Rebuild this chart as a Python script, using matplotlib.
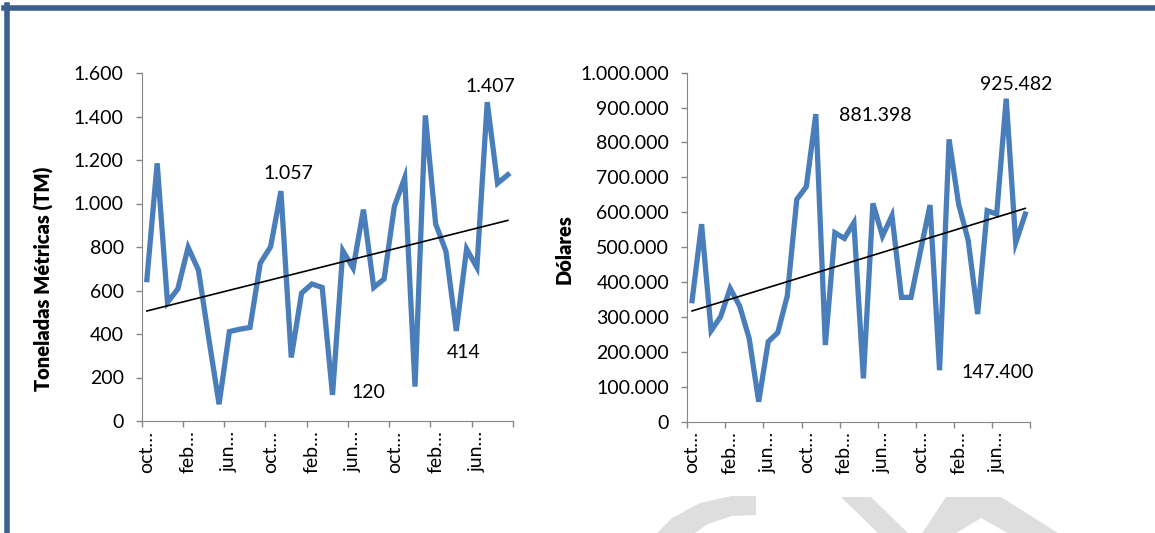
import numpy as np
import matplotlib.pyplot as plt
from matplotlib.ticker import FuncFormatter, FixedLocator
from matplotlib.lines import Line2D
from matplotlib.patches import Polygon

# monthly series, oct to sep, three years
meses = ["oct…", "feb…", "jun…"] * 3
toneladas = [650, 1185, 545, 607, 798, 694, 380, 77, 411, 422, 430, 726,
             801, 1057, 292, 588, 630, 614, 120, 783, 703, 972, 614, 653,
             987, 1118, 158, 1405, 906, 780, 414, 791, 706, 1466, 1093, 1132]
dolares = [346700, 566000, 260700, 300900, 382000, 331400, 238800, 57300,
           229200, 255000, 360100, 637000, 673400, 881398, 219700, 541500,
           525300, 570200, 124200, 625600, 532000, 590300, 356200, 356200,
           490000, 620800, 147400, 809000, 623700, 520500, 308500, 604600,
           595000, 925482, 512900, 595000]

plt.rcParams['font.family'] = ['Lato', 'DejaVu Sans']

W, H = 1155, 533
fig = plt.figure(figsize=(W / 100, H / 100), dpi=100)

LINE = '#4A7EBB'
GRAY = '#868686'
FS = 14


def miles(v, pos=None):
    return f"{int(round(v)):,}".replace(",", ".")


def setup(ax, values, ymax, ystep, ylabel, label_xy):
    x = np.arange(len(values))
    ax.plot(x, values, color=LINE, lw=3.8, solid_joinstyle='miter')
    m, b = np.polyfit(x, values, 1)
    ax.plot([x[0], x[-1]], [m * x[0] + b, m * x[-1] + b], color='black', lw=1.2)
    ax.set_xlim(-0.5, len(values) - 0.5)
    ax.set_ylim(0, ymax)
    ax.set_yticks(np.arange(0, ymax + 1, ystep))
    ax.yaxis.set_major_formatter(FuncFormatter(miles))
    ax.xaxis.set_major_locator(FixedLocator(np.arange(-0.5, len(values), 4)))
    ax.xaxis.set_minor_locator(FixedLocator(np.arange(0, len(values) - 3, 4)))
    ax.set_xticklabels([], minor=False)
    ax.set_xticklabels(meses, minor=True, rotation=90, va='top', ha='center')
    ax.tick_params(which='major', color=GRAY, length=4, width=1, direction='out')
    ax.tick_params(axis='y', labelsize=FS, pad=9)
    ax.tick_params(axis='x', which='minor', length=0, labelsize=FS, pad=7)
    for s in ['top', 'right']:
        ax.spines[s].set_visible(False)
    for s in ['left', 'bottom']:
        ax.spines[s].set_color(GRAY)
    ax.set_ylabel(ylabel, fontsize=FS + 0.5, fontweight='heavy')
    ax.yaxis.set_label_coords(*label_xy)


ax1 = fig.add_axes([141.7 / W, 1 - 421 / H, 371.3 / W, 348 / H])
setup(ax1, toneladas, 1600, 200, "Toneladas Métricas (TM)", (-0.236, 0.41))
for tx, ty, s in [(13.7, 1140, "1.057"), (21.5, 129, "120"),
                  (30.7, 313, "414"), (33.3, 1536, "1.407")]:
    ax1.text(tx, ty, s, fontsize=FS, ha='center', va='center')

ax2 = fig.add_axes([687.3 / W, 1 - 421.7 / H, 342.7 / W, 349 / H])
setup(ax2, dolares, 1000000, 100000, "Dólares", (-0.333, 0.495))
for tx, ty, s in [(19.2, 876000, "881.398"), (34.1, 967500, "925.482"),
                  (32.1, 142400, "147.400")]:
    ax2.text(tx, ty, s, fontsize=FS, ha='center', va='center', clip_on=False)

# blue frame
BORDER = '#3C5F8E'
fig.add_artist(Line2D([6.5 / W, 6.5 / W], [1 - 5 / H, 0], color=BORDER, lw=4,
                      transform=fig.transFigure))
fig.add_artist(Line2D([4 / W, 1], [1 - 7.5 / H, 1 - 7.5 / H], color=BORDER, lw=4,
                      transform=fig.transFigure))

# faint watermark shapes at the bottom
def px(pts):
    return [(a / W, 1 - b / H) for a, b in pts]

for pts in [
    [(756, 496), (732, 496), (700, 503), (672, 518), (655, 535),
     (692, 535), (708, 524), (732, 516), (756, 515)],
    [(841, 497), (871, 497), (910, 535), (880, 535)],
    [(946, 497), (1001, 497), (1061, 535), (1011, 535), (981, 518),
     (953, 535), (921, 535)],
]:
    fig.add_artist(Polygon(px(pts), closed=True, facecolor='#DEDEDE',
                           edgecolor='none', transform=fig.transFigure, zorder=0))

fig.savefig('out.png', dpi=100)
